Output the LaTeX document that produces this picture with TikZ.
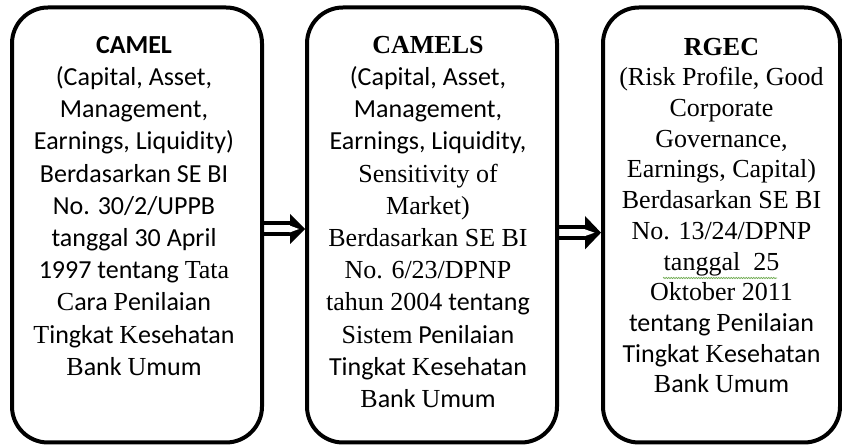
\documentclass[tikz,border=0pt]{standalone}
\usepackage{fontspec}
\setmainfont{Carlito}
\newfontfamily\serfnt{Liberation Serif}
\usetikzlibrary{calc,decorations.pathmorphing}
\definecolor{squig}{RGB}{110,170,80}
\tikzset{
  stagebox/.style={draw=black, line width=4pt, rounded corners=36pt, inner sep=0pt,
    minimum height=435pt, fill=white},
  stagetext/.style={anchor=north, inner sep=0pt, align=center,
    font=\fontsize{26pt}{32.2pt}\selectfont},
}
\begin{document}
\begin{tikzpicture}[x=1pt,y=1pt]
\useasboundingbox (0,0) rectangle (842,446);
\node[stagebox, minimum width=250pt] (b1) at (137,221) {};
\node[stagebox, minimum width=250pt] (b2) at (432,221) {};
\node[stagebox, minimum width=237pt] (b3) at (721.5,221) {};

\node[stagetext] (t1) at ($(b1.north)+(-3,-25)$) {%
\strut\textbf{CAMEL}\\
(Capital, Asset,\\
Management,\\
Earnings, Liquidity)\\
Berdasarkan SE BI\\
No. 30/2/UPPB\\
tanggal 30 April\\
1997 tentang {\serfnt Tata}\\
{\serfnt C}ara {\serfnt P}enilaian\\
{\serfnt T}ingkat {\serfnt K}esehatan\\
{\serfnt B}ank {\serfnt U}mum};

\node[stagetext] (t2) at ($(b2.north)+(-4,-25)$) {%
\strut{\serfnt\bfseries CAMELS}\\
(Capital, Asset,\\
Management,\\
Earnings, Liquidity,\\
{\serfnt Sensitivity of}\\
{\serfnt Market)}\\
{\serfnt Berdasarkan SE BI}\\
{\serfnt No. 6/23/DPNP}\\
{\serfnt tahun 2004} tentang\\
{\serfnt Sistem} Penilaian\\
Tingkat {\serfnt K}esehatan\\
{\serfnt B}ank {\serfnt U}mum};

\node[stagetext, font=\fontsize{26pt}{30.7pt}\selectfont] (t3) at ($(b3.north)+(0,-28)$) {%
\strut{\serfnt\bfseries RGEC}\\
{\serfnt (Risk Profile, Good}\\
{\serfnt Corporate}\\
{\serfnt Governance,}\\
{\serfnt Earnings, Capital)}\\
{\serfnt Berdasarkan SE BI}\\
{\serfnt No. 13/24/DPNP}\\
{\serfnt tanggal~~25}\\
{\serfnt Oktober 2011}\\
tentang {\serfnt P}enilaian\\
Tingkat {\serfnt K}esehatan\\
{\serfnt B}ank {\serfnt U}mum};

\draw[squig, line width=0.8pt, decorate, decoration={snake, amplitude=0.6pt, segment length=2.5pt}]
  ($(b3.north)+(-58.5,-272.5)$) -- ($(b3.north)+(55.5,-272.5)$);

% arrow 1 : b1 -> b2
\coordinate (s1) at ($(b1.east)+(0,-4)$);
\coordinate (e1) at ($(b2.west)+(0,-4)$);
\fill ($(s1)+(0,3.5)$) rectangle ($(e1)+(-14,7.5)$);
\fill ($(s1)+(0,-3.5)$) rectangle ($(e1)+(-14,-7.5)$);
\fill (e1) -- ($(e1)+(-15,15)$) -- ($(e1)+(-15,-15)$) -- cycle;
\fill[white] ($(e1)+(-15.5,3.5)$) -- ($(e1)+(-6,0)$) -- ($(e1)+(-15.5,-3.5)$) -- cycle;

% arrow 2 : b2 -> b3
\coordinate (s2) at ($(b2.east)+(0,-7.7)$);
\coordinate (e2) at ($(b3.west)+(0,-7.7)$);
\fill ($(s2)+(0,3.5)$) rectangle ($(e2)+(-15,7.5)$);
\fill ($(s2)+(0,-3.5)$) rectangle ($(e2)+(-15,-7.5)$);
\fill (e2) -- ($(e2)+(-16,16.7)$) -- ($(e2)+(-16,-16.7)$) -- cycle;
\fill[white] ($(e2)+(-16.5,3.5)$) -- ($(e2)+(-6.5,0)$) -- ($(e2)+(-16.5,-3.5)$) -- cycle;
\end{tikzpicture}
\end{document}
